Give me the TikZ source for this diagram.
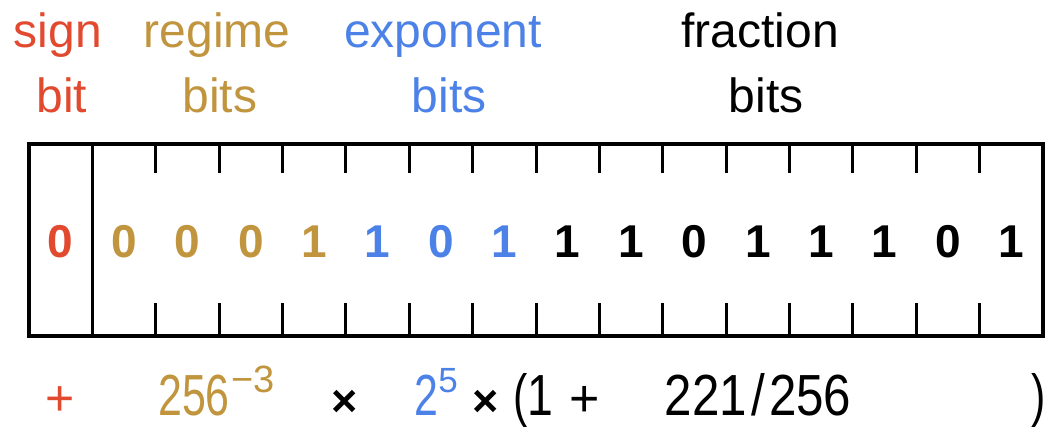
\documentclass[tikz,border=0pt]{standalone}
\usepackage{fontspec}
\setmainfont{Liberation Sans}
\usepackage{graphicx}
\definecolor{sgn}{RGB}{226,74,48}
\definecolor{reg}{RGB}{193,149,62}
\definecolor{expc}{RGB}{76,130,232}
\begin{document}
\begin{tikzpicture}[x=1pt,y=-1pt,
  lab/.style={font=\fontsize{48}{50}\selectfont, inner sep=0pt, anchor=base},
  bitd/.style={font=\fontsize{46}{48}\selectfont\bfseries, inner sep=0pt, anchor=base},
  frm/.style={font=\fontsize{58}{60}\selectfont, inner sep=0pt, anchor=base},
  supt/.style={font=\fontsize{37}{40}\selectfont, inner sep=0pt, anchor=base},
  timesop/.style={font=\fontsize{45}{47}\selectfont\bfseries, inner sep=0pt, anchor=base},
  plusop/.style={font=\fontsize{52}{54}\selectfont, inner sep=0pt, anchor=base},
  boxline/.style={line width=3.5pt},
  tickline/.style={line width=3pt}]
\useasboundingbox[fill=white] (0,0) rectangle (1051,426);

% labels
\node[lab,text=sgn] (l1a) at (58,47) {sign};
\node[lab,text=sgn] (l1b) at (62,112) {bit};
\node[lab,text=reg] (l2a) at (217,47) {regime};
\node[lab,text=reg] (l2b) at (220,112) {bits};
\node[lab,text=expc] (l3a) at (443,47) {exponent};
\node[lab,text=expc] (l3b) at (449,112) {bits};
\node[lab] (l4a) at (760,47) {fraction};
\node[lab] (l4b) at (766,112) {bits};

% box
\draw[boxline] (29,144) rectangle (1043,336);
\draw[boxline] (92.4,144) -- (92.4,336);
\foreach \k in {2,...,15} {
  \draw[tickline] ({29+63.375*\k},144) -- ++(0,29);
  \draw[tickline] ({29+63.375*\k},336) -- ++(0,-33);
}

% bits
\foreach \d/\c [count=\i from 0] in {0/sgn,0/reg,0/reg,0/reg,1/reg,1/expc,0/expc,1/expc,1/black,1/black,0/black,1/black,1/black,1/black,0/black,1/black}
  \node[bitd,text=\c] (b\i) at ({29+63.375*(\i+0.5)},257) {\d};

% formula
\node[plusop,text=sgn,font=\fontsize{50}{52}\selectfont] (fplus) at (60,415.5) {+};
\node[frm,text=reg] (f256) at (194,415) {\scalebox{0.74}[1]{256}};
\node[supt,text=reg,font=\fontsize{38}{40}\selectfont] (fm3) at (253,392) {−3};
\node[timesop] (ftimesa) at (345,416) {×};
\node[frm,text=expc] (f2) at (426,415) {\scalebox{0.74}[1]{2}};
\node[supt,text=expc,font=\fontsize{35}{38}\selectfont] (f5) at (448,392) {5};
\node[timesop] (ftimesb) at (486,416) {×};
\node[frm] (fpar) at (521,415) {\scalebox{0.74}[1]{(}};
\node[frm] (fone) at (540,415) {\scalebox{0.8}[1]{1}};
\node[plusop] (fplusb) at (585,416) {+};
\node[frm] (ffrac) at (758,415) {\scalebox{0.85}[1]{221\hspace{5pt}/\hspace{5pt}256}};
\node[frm] (fclose) at (1039,415) {\scalebox{0.74}[1]{)}};
\end{tikzpicture}
\end{document}
